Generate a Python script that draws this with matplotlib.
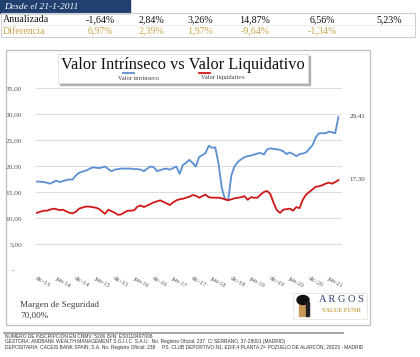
"""
Valor Intrinseco vs Valor Liquidativo - Argos Value Fund
"""
import matplotlib
matplotlib.use("Agg")
import matplotlib.pyplot as plt
from matplotlib.patches import Rectangle, Ellipse

# data, monthly from dic-13
intrinseco = [17.0, 17.0, 16.9, 16.8, 16.6, 16.9, 17.2, 16.9, 17.1, 17.3,
              17.4, 17.4, 18.2, 18.7, 18.9, 19.1, 19.4, 19.7, 19.7, 19.6,
              19.7, 19.9, 19.4, 19.0, 19.3, 19.4, 19.5, 19.5, 19.5, 19.5,
              19.4, 19.4, 19.3, 19.0, 19.5, 19.9, 19.8, 19.0, 19.2, 19.4,
              19.5, 19.3, 19.6, 19.9, 18.5, 20.2, 20.6, 21.2, 20.6, 19.9,
              21.7, 22.1, 22.5, 23.9, 23.5, 23.6, 20.5, 15.8, 13.6, 13.5,
              18.3, 20.0, 20.8, 21.3, 21.7, 21.9, 22.0, 22.2, 22.4, 22.5,
              22.2, 23.2, 23.4, 23.3, 23.2, 23.1, 22.8, 22.3, 22.6, 22.3,
              21.9, 22.3, 22.4, 22.6, 23.3, 24.0, 25.5, 26.3, 26.3, 26.3,
              26.6, 26.5, 26.3, 29.41]
liquidativo = [11.0, 11.2, 11.4, 11.4, 11.6, 11.8, 11.7, 11.5, 11.6, 11.3,
               11.0, 10.9, 11.2, 11.8, 12.0, 12.2, 12.2, 12.1, 12.0, 11.8,
               11.3, 10.8, 11.6, 11.3, 11.0, 10.6, 10.7, 11.1, 11.4, 11.4,
               11.5, 12.2, 12.4, 12.1, 12.4, 12.7, 13.0, 13.2, 13.4, 13.1,
               12.8, 12.5, 13.0, 13.4, 13.6, 13.7, 13.9, 14.1, 14.4, 14.3,
               13.9, 14.2, 14.5, 14.0, 13.9, 13.9, 13.9, 13.8, 13.6, 13.4,
               13.6, 13.8, 13.9, 14.0, 14.2, 13.5, 14.0, 13.9, 13.9, 14.5,
               15.0, 15.2, 14.6, 12.9, 11.5, 11.0, 11.6, 11.7, 11.8, 11.4,
               12.1, 11.9, 13.5, 14.5, 15.0, 15.5, 16.0, 16.1, 16.3, 16.6,
               16.8, 16.6, 16.9, 17.30]
tick_labels = ['dic-13', 'jun-14', 'dic-14', 'jun-15', 'dic-15', 'jun-16',
               'dic-16', 'jun-17', 'dic-17', 'jun-18', 'dic-18', 'jun-19',
               'dic-19', 'jun-20', 'dic-20', 'jun-21']
y_ticks = [0, 5, 10, 15, 20, 25, 30, 35]

anualizada = ['-1,64%', '2,84%', '3,26%', '14,87%', '6,56%', '5,23%']
diferencia = ['6,97%', '2,39%', '1,97%', '-9,64%', '-1,34%']
col_x = [100, 151, 200, 255, 322, 389]

footer = [
    "NUMERO DE INSCRIPCIÓN EN CNMV: 5206 ISIN: ES0110407006",
    "GESTORA: ANDBANK WEALTH MANAGEMENT S.G.I.I.C. S.A.U.  No. Registro Oficial: 237  C/ SERRANO, 37-28001 (MADRID)",
    "DEPOSITARIA: CACEIS BANK SPAIN, S.A. No. Registro Oficial: 238     PS. CLUB DEPORTIVO N1, EDIF.4 PLANTA 2ª- POZUELO DE ALARCÓN, 28223 - MADRID",
]

BLUE = '#5b8fd2'
RED = '#d01818'
GOLD = '#c9a54a'
NAVY = '#21406f'
SERIF = 'Liberation Serif'

W, H = 420, 357
fig = plt.figure(figsize=(W / 100, H / 100), dpi=100)

# background layer in pixel coordinates
bg = fig.add_axes([0, 0, 1, 1])
bg.set_xlim(0, W)
bg.set_ylim(H, 0)
bg.axis('off')

# top table
bg.add_patch(Rectangle((0, 0), 130, 13, color=NAVY))
bg.text(4, 7, 'Desde el 21-1-2011', color='white', style='italic', family=SERIF,
        fontsize=6.8, va='center', ha='left')
bg.add_patch(Rectangle((0.5, 13), 414, 24, fill=False, ec='#cfcfcf', lw=0.8))
bg.plot([0.5, 414.5], [25, 25], color='#e6e6e6', lw=0.5)
bg.text(3, 20, 'Anualizada', family=SERIF, fontsize=7.2, va='center', color='#111111')
bg.text(3, 31, 'Diferencia', family=SERIF, fontsize=7.2, va='center', color=GOLD)
for x, v in zip(col_x, anualizada):
    bg.text(x, 20, v, family=SERIF, fontsize=7.2, va='center', ha='center', color='#111111')
for x, v in zip(col_x, diferencia):
    bg.text(x, 31, v, family=SERIF, fontsize=7.2, va='center', ha='center', color=GOLD)

# chart frame
bg.add_patch(Rectangle((6, 50), 364, 275, fill=False, ec='#bfbfbf', lw=0.9))

# title box with shadow
bg.add_patch(Rectangle((60, 56), 250, 29, color='#b0b0b0'))
bg.add_patch(Rectangle((58, 54), 250, 29, fc='white', ec='#d9d9d9', lw=0.5))
bg.text(183, 65, 'Valor Intrínseco vs Valor Liquidativo', family=SERIF, fontsize=11.8,
        ha='center', va='center', color='#111111')
bg.plot([123, 134], [72.5, 72.5], color=BLUE, lw=1.3)
bg.plot([199, 210], [72.5, 72.5], color=RED, lw=1.3)
bg.text(118, 78, 'Valor intrínseco', family=SERIF, fontsize=4.6, va='center', color='#404040')
bg.text(201, 78, 'Valor liquidativo', family=SERIF, fontsize=4.6, va='center', color='#404040')

# margen
bg.text(20, 305, 'Margen de Seguridad', family=SERIF, fontsize=6.6, va='center', color='#404040')
bg.text(20, 316, '70,00%', family=SERIF, fontsize=6.6, va='center', color='#404040')

# logo
bg.add_patch(Rectangle((293, 293), 74, 26, fc='white', ec='#e4e4dc', lw=0.6))
bg.add_patch(Rectangle((299, 302), 9, 14, color='#c79a5a'))
bg.add_patch(Ellipse((303, 300), 12, 9, color='#111111'))
bg.add_patch(Rectangle((306, 302), 3, 14, color='#222222'))
bg.text(341, 300, 'A R G O S', family=SERIF, fontsize=7.5, ha='center', va='center', color='#2c3f6e')
bg.text(341, 311, 'VALUE FUND', family=SERIF, fontsize=4.3, weight='bold', ha='center',
        va='center', color=GOLD)

# footer
bg.plot([4, 343], [333, 333], color='#a6a6a6', lw=1.4)
for i, line in enumerate(footer):
    bg.text(5, 336.3 + i * 5.3, line, family='Liberation Sans', fontsize=3.5,
            va='center', color='#333333')

# main chart
ax = fig.add_axes([36 / W, 1 - 270 / H, 306 / W, 182 / H])
ax.patch.set_alpha(0)
x = list(range(len(intrinseco)))
ax.plot(x, intrinseco, color=BLUE, lw=1.3, zorder=3)
ax.plot(x, liquidativo, color=RED, lw=1.3, zorder=3)
ax.set_xlim(-0.31, 94.1)
ax.set_ylim(0, 35)
for s in ax.spines.values():
    s.set_visible(False)
ax.set_yticks(y_ticks)
ax.set_yticklabels(['-    '] + ['%d,00' % v for v in y_ticks[1:]], family=SERIF,
                   fontsize=5.3, color='#595959')
ax.yaxis.grid(True, color='#dedede', lw=0.8)
ax.tick_params(axis='y', length=0, pad=10)
ax.set_xticks(range(0, 6 * len(tick_labels), 6))
ax.set_xticklabels(tick_labels, rotation=-30, ha='left', va='top', rotation_mode='anchor',
                   family=SERIF, fontsize=4.6, color='#595959')
ax.tick_params(axis='x', length=0, pad=4)

ax.annotate('29,41', (x[-1], intrinseco[-1]), xytext=(8, 1), textcoords='offset points',
            family=SERIF, fontsize=5, color='#404040', va='center', annotation_clip=False)
ax.annotate('17,30', (x[-1], liquidativo[-1]), xytext=(8, 1), textcoords='offset points',
            family=SERIF, fontsize=5, color='#404040', va='center', annotation_clip=False)

fig.savefig('out.png', dpi=100)
